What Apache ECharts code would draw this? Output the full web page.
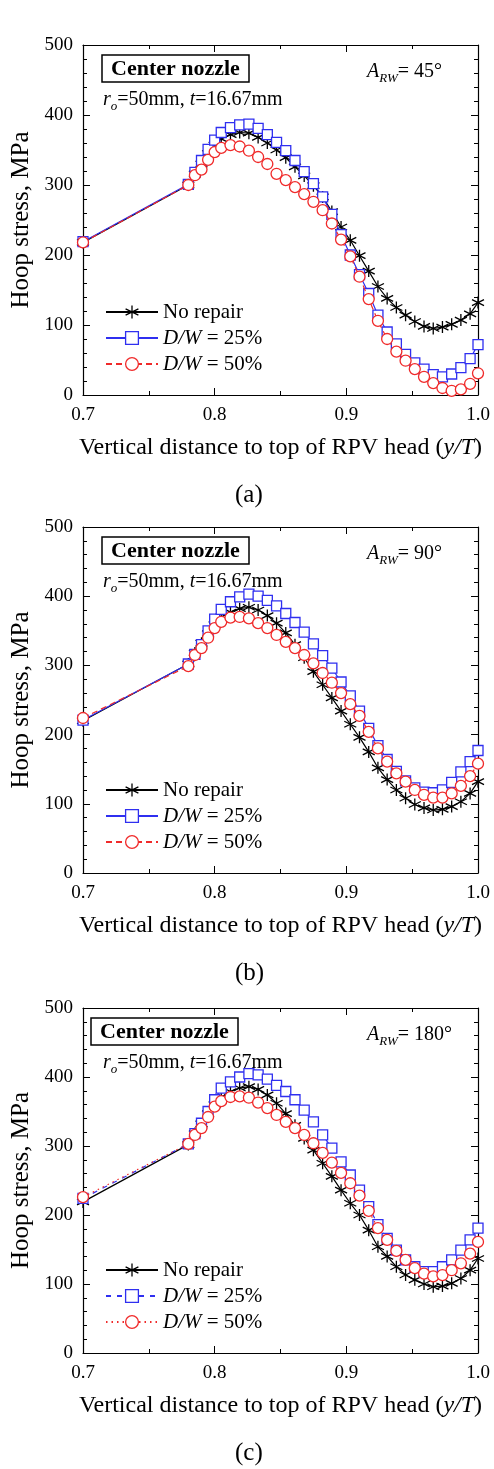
<!DOCTYPE html>
<html>
<head>
<meta charset="utf-8">
<title>Hoop stress</title>
<script src="https://cdn.jsdelivr.net/npm/echarts@6/dist/echarts.min.js"></script>
<style>
html, body {margin:0; padding:0; background:#fff;}
#chart {width:494px; height:1469px;}
</style>
</head>
<body>
<div id="chart"></div>
<script>
// y/T positions shared by all curves
var yPos = [0.70, 0.78, 0.785, 0.79, 0.795, 0.80, 0.805, 0.812, 0.819, 0.826, 0.833, 0.840, 0.847, 0.854,
            0.861, 0.868, 0.875, 0.882, 0.889, 0.896, 0.903, 0.910, 0.917, 0.924, 0.931, 0.938, 0.945,
            0.952, 0.959, 0.966, 0.973, 0.980, 0.987, 0.994, 1.0];

// (a) A_RW = 45
var noRepairA = [218, 300, 316, 330, 345, 357, 366, 372, 375, 374, 368, 360, 350, 339, 326, 313, 299, 283,
                 262, 240, 221, 199, 177, 155, 138, 125, 114, 105, 98, 95, 97, 101, 107, 116, 132];
var dw25A = [219, 301, 318, 335, 351, 364, 375, 382, 386, 387, 381, 372, 361, 349, 335, 319, 302, 283,
             258, 229, 200, 172, 145, 114, 90, 73, 58, 46, 37, 29, 26, 30, 39, 52, 72];
var dw50A = [218, 300, 314, 322, 336, 347, 353, 357, 355, 349, 340, 330, 316, 307, 297, 287, 276, 264,
             245, 222, 198, 169, 137, 106, 80, 62, 49, 37, 26, 17, 10, 6, 8, 16, 31];

// (b) A_RW = 90
var noRepairB = [220, 302, 318, 332, 346, 359, 370, 377, 382, 384, 380, 372, 361, 347, 330, 311, 291, 272,
                 253, 234, 215, 196, 175, 152, 135, 120, 108, 99, 94, 91, 92, 96, 103, 115, 132];
var dw25B = [221, 302, 316, 330, 350, 367, 381, 392, 399, 403, 400, 394, 386, 375, 362, 348, 331, 314,
             296, 276, 256, 234, 209, 184, 164, 147, 133, 123, 117, 116, 120, 131, 146, 161, 177];
var dw50B = [224, 299, 315, 325, 340, 354, 363, 369, 370, 368, 361, 354, 344, 334, 325, 315, 303, 289,
             275, 260, 244, 227, 204, 180, 161, 144, 132, 120, 113, 109, 109, 115, 126, 140, 158];

// (c) A_RW = 180
var noRepairC = [219, 302, 318, 332, 347, 360, 371, 379, 384, 386, 382, 374, 362, 347, 330, 311, 294, 275,
                 256, 236, 217, 200, 178, 154, 140, 125, 113, 106, 100, 96, 97, 101, 108, 120, 137];
var dw25C = [224, 303, 318, 333, 350, 367, 384, 393, 400, 405, 403, 397, 388, 379, 367, 352, 335, 316,
             297, 277, 258, 236, 212, 186, 166, 149, 135, 125, 118, 118, 125, 135, 149, 164, 181];
var dw50C = [226, 303, 316, 326, 342, 357, 365, 371, 372, 370, 363, 355, 345, 335, 326, 316, 304, 290,
             276, 261, 246, 228, 206, 181, 164, 148, 135, 123, 115, 111, 113, 120, 130, 144, 161];

var seriesNames = ['No repair', 'D/W = 25%', 'D/W = 50%'];

var FONT = '"Liberation Serif", "Times New Roman", serif';
var COLORS = ['#000000', '#2f2ff0', '#f02a2a'];
var STAR = 'path://M5,0L5,10M0.67,2.5L9.33,7.5M0.67,7.5L9.33,2.5';
var SYMBOLS = [STAR, 'rect', 'circle'];
var SIZES = [12, 10, 11];

var panels = [
    {key: 'a', caption: '(a)', angle: '45°', top: 45, height: 350, curves: [noRepairA, dw25A, dw50A],
     dash: ['solid', 'solid', [6, 4]], boxLeft: 102},
    {key: 'b', caption: '(b)', angle: '90°', top: 527, height: 346, curves: [noRepairB, dw25B, dw50B],
     dash: ['solid', 'solid', [6, 4]], boxLeft: 102},
    {key: 'c', caption: '(c)', angle: '180°', top: 1008, height: 345, curves: [noRepairC, dw25C, dw50C],
     dash: ['solid', [5, 6], [1.5, 4]], boxLeft: 91}
];

var subRich = {
    i: {fontFamily: FONT, fontStyle: 'italic', fontSize: 20, lineHeight: 26, color: '#000'},
    s: {fontFamily: FONT, fontStyle: 'italic', fontSize: 13, lineHeight: 14, verticalAlign: 'bottom', color: '#000'}
};

function axisCommon(showLabel) {
    return {
        axisLine: {show: true, onZero: false, lineStyle: {color: '#000', width: 1.2}},
        axisTick: {show: true, inside: true, length: 7, lineStyle: {color: '#000', width: 1}},
        minorTick: {show: true, length: 4, lineStyle: {color: '#000', width: 1}},
        splitLine: {show: false},
        axisLabel: {show: showLabel, color: '#000', fontFamily: FONT, fontSize: 19}
    };
}

var chart = echarts.init(document.getElementById('chart'));
var option = {animation: false, grid: [], xAxis: [], yAxis: [], series: [], legend: [], title: []};

panels.forEach(function (p, k) {
    option.grid.push({left: 83, width: 395, top: p.top, height: p.height});

    var xb = axisCommon(true);
    xb.gridIndex = k; xb.type = 'value'; xb.min = 0.7; xb.max = 1.0; xb.interval = 0.1;
    xb.minorTick.splitNumber = 2;
    xb.axisLabel.margin = 11;
    xb.axisLabel.formatter = function (v) { return v.toFixed(1); };
    xb.name = 'Vertical distance to top of RPV head ({i|y/T})';
    xb.nameLocation = 'middle';
    xb.nameGap = 41;
    xb.nameTextStyle = {color: '#000', fontFamily: FONT, fontSize: 24,
        rich: {i: {fontFamily: FONT, fontStyle: 'italic', fontSize: 24, color: '#000'}}};
    option.xAxis.push(xb);

    var xt = axisCommon(false);
    xt.gridIndex = k; xt.type = 'value'; xt.position = 'top'; xt.min = 0.7; xt.max = 1.0; xt.interval = 0.1;
    xt.minorTick.splitNumber = 2;
    option.xAxis.push(xt);

    var yl = axisCommon(true);
    yl.gridIndex = k; yl.type = 'value'; yl.min = 0; yl.max = 500; yl.interval = 100;
    yl.minorTick.splitNumber = 5;
    yl.axisLabel.margin = 10;
    yl.name = 'Hoop stress, MPa';
    yl.nameLocation = 'middle';
    yl.nameGap = 49;
    yl.nameTextStyle = {color: '#000', fontFamily: FONT, fontSize: 25};
    option.yAxis.push(yl);

    var yr = axisCommon(false);
    yr.gridIndex = k; yr.type = 'value'; yr.position = 'right'; yr.min = 0; yr.max = 500; yr.interval = 100;
    yr.minorTick.splitNumber = 5;
    option.yAxis.push(yr);

    var legendData = [];
    p.curves.forEach(function (vals, j) {
        var name = p.key + ':' + seriesNames[j];
        legendData.push(name);
        option.series.push({
            name: name,
            type: 'line',
            xAxisIndex: 2 * k,
            yAxisIndex: 2 * k,
            data: yPos.map(function (x, i) { return [x, vals[i]]; }),
            symbol: SYMBOLS[j],
            symbolSize: SIZES[j],
            lineStyle: {color: COLORS[j], width: 1.2, type: p.dash[j]},
            itemStyle: {color: j === 0 ? COLORS[0] : '#fff', borderColor: COLORS[j], borderWidth: 1.3},
            z: 2 + j
        });
    });

    option.legend.push({
        data: legendData,
        orient: 'vertical',
        left: 105,
        top: p.top + p.height - 96,
        padding: 0,
        itemWidth: 52,
        itemHeight: 16,
        itemGap: 0,
        selectedMode: false,
        itemStyle: {borderWidth: 1.3},
        textStyle: {color: '#000', fontFamily: FONT, fontSize: 21, lineHeight: 26,
            rich: {i: {fontFamily: FONT, fontStyle: 'italic', fontSize: 21, lineHeight: 26, color: '#000'}}},
        formatter: function (name) {
            return name.split(':')[1].replace('D/W', '{i|D/W}');
        }
    });

    option.title.push({
        text: 'Center nozzle',
        left: p.boxLeft,
        top: p.top + 10,
        padding: [2, 9, 1, 9],
        borderColor: '#000',
        borderWidth: 1.5,
        textStyle: {color: '#000', fontFamily: FONT, fontSize: 22, fontWeight: 'bold', lineHeight: 24}
    });
    option.title.push({
        text: '{i|r}{s|o}=50mm, {i|t}=16.67mm',
        left: 103,
        top: p.top + 42,
        padding: 0,
        textStyle: {color: '#000', fontFamily: FONT, fontSize: 20, fontWeight: 'normal', lineHeight: 26, rich: subRich}
    });
    option.title.push({
        text: '{i|A}{s|RW}= ' + p.angle,
        left: 367,
        top: p.top + 14,
        padding: 0,
        textStyle: {color: '#000', fontFamily: FONT, fontSize: 20, fontWeight: 'normal', lineHeight: 26, rich: subRich}
    });
    option.title.push({
        text: p.caption,
        left: 235,
        top: p.top + p.height + 88,
        padding: 0,
        textStyle: {color: '#000', fontFamily: FONT, fontSize: 25, fontWeight: 'normal'}
    });
});

chart.setOption(option);
</script>
</body>
</html>
